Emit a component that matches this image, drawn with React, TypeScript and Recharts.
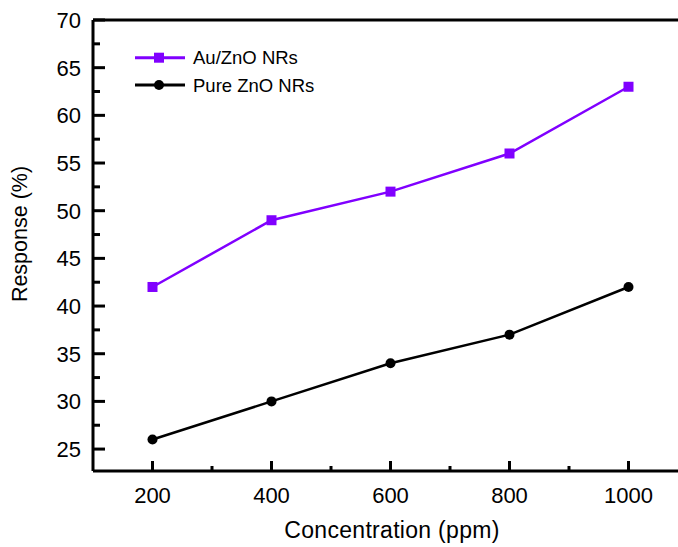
import { LineChart, Line, XAxis, YAxis, ReferenceLine, Customized } from 'recharts'

const concentrations = [200, 400, 600, 800, 1000]
const auZnO = [42, 49, 52, 56, 63]
const pureZnO = [26, 30, 34, 37, 42]
const xTicks = [200, 300, 400, 500, 600, 700, 800, 900, 1000]
const yTicks = [25, 27.5, 30, 32.5, 35, 37.5, 40, 42.5, 45, 47.5, 50, 52.5, 55, 57.5, 60, 62.5, 65, 67.5, 70]

const data = concentrations.map((c, i) => ({ c, au: auZnO[i], pure: pureZnO[i] }))

const PURPLE = '#8000ff'
const FONT = '"Liberation Sans", Arial, sans-serif'
const PLOT_LEFT = 93
const PLOT_BOTTOM = 471

const series = [
  { key: 'au', name: 'Au/ZnO NRs', color: PURPLE, shape: 'square' },
  { key: 'pure', name: 'Pure ZnO NRs', color: '#000', shape: 'circle' }
]

const YTick = (props: any) => {
  const { payload } = props
  const y = payload.coordinate
  const major = payload.value % 5 === 0
  return (
    <g>
      <line x1={PLOT_LEFT} x2={PLOT_LEFT + (major ? 12 : 7)} y1={y} y2={y} stroke="#000" strokeWidth={3} />
      {major && (
        <text x={PLOT_LEFT - 12} y={y} dy="0.36em" textAnchor="end" fontSize={22} fontFamily={FONT} fill="#000">
          {payload.value}
        </text>
      )}
    </g>
  )
}

const XTick = (props: any) => {
  const { payload } = props
  const x = payload.coordinate
  const major = payload.value % 200 === 0
  return (
    <g>
      <line x1={x} x2={x} y1={PLOT_BOTTOM} y2={PLOT_BOTTOM - (major ? 10 : 5)} stroke="#000" strokeWidth={3} />
      {major && (
        <text x={x} y={503} textAnchor="middle" fontSize={22} fontFamily={FONT} fill="#000">
          {payload.value}
        </text>
      )}
    </g>
  )
}

const SquareDot = (props: any) => {
  const { cx, cy, index } = props
  return <rect key={`sq-${index}`} x={cx - 5} y={cy - 5} width={10} height={10} fill={PURPLE} />
}

const CircleDot = (props: any) => {
  const { cx, cy, index } = props
  return <circle key={`ci-${index}`} cx={cx} cy={cy} r={5} fill="#000" />
}

const Titles = () => (
  <g fontFamily={FONT} fill="#000">
    <text x={392} y={538} textAnchor="middle" fontSize={23} letterSpacing={0.3}>Concentration (ppm)</text>
    <text x={26.5} y={234} textAnchor="middle" fontSize={21.5} transform="rotate(-90 26.5 234)">Response (%)</text>
    {series.map((s, i) => {
      const y = 57.7 + 27.3 * i
      return (
        <g key={s.key}>
          <line x1={135} x2={185} y1={y} y2={y} stroke={s.color} strokeWidth={3} />
          {s.shape === 'square'
            ? <rect x={154} y={y - 5} width={10} height={10} fill={s.color} />
            : <circle cx={159} cy={y} r={5} fill={s.color} />}
          <text x={193} y={y + 6.5} fontSize={18.5}>{s.name}</text>
        </g>
      )
    })}
  </g>
)

export default function App() {
  return (
    <div style={{ position: 'fixed', left: 0, top: 0, width: 678, height: 547, overflow: 'hidden', background: '#fff' }}>
      <LineChart width={700} height={547} data={data} margin={{ top: 20, right: 12, bottom: 0, left: 0 }}>
        <XAxis
          dataKey="c"
          type="number"
          domain={[100, 1100]}
          ticks={xTicks}
          height={76}
          axisLine={{ stroke: '#000', strokeWidth: 3 }}
          tickLine={false}
          tick={<XTick />}
          interval={0}
        />
        <YAxis
          type="number"
          domain={[22.7, 70]}
          ticks={yTicks}
          width={93}
          axisLine={{ stroke: '#000', strokeWidth: 3 }}
          tickLine={false}
          tick={<YTick />}
          interval={0}
          allowDataOverflow
        />
        <ReferenceLine y={70} stroke="#000" strokeWidth={3} />
        <Line dataKey="au" name="Au/ZnO NRs" stroke={PURPLE} strokeWidth={2.5} dot={SquareDot} isAnimationActive={false} />
        <Line dataKey="pure" name="Pure ZnO NRs" stroke="#000" strokeWidth={2.5} dot={CircleDot} isAnimationActive={false} />
        <Customized component={Titles} />
      </LineChart>
    </div>
  )
}
